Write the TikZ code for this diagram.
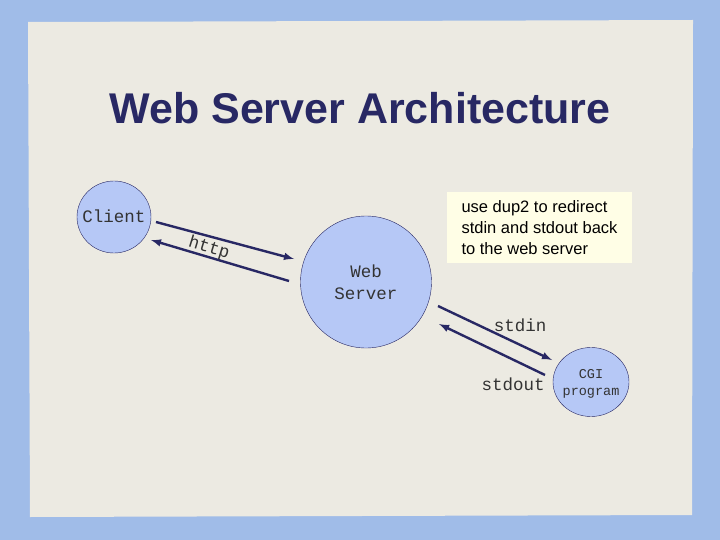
\documentclass[tikz,border=0pt]{standalone}
\usepackage{fontspec}
\setmainfont{Liberation Sans}
\setmonofont{Liberation Mono}
\usetikzlibrary{shapes.geometric}
\definecolor{bubfill}{RGB}{182,200,246}
\definecolor{navy}{RGB}{40,40,100}
\definecolor{paper}{RGB}{236,234,226}
\definecolor{frame}{RGB}{160,188,232}
\begin{document}
\begin{tikzpicture}[x=1pt,y=-1pt,
  bub/.style={ellipse,draw=navy,fill=bubfill,inner sep=0pt},
  arr/.style={draw=navy,line width=2.4pt,-latex},
  lbl/.style={font=\ttfamily\fontsize{17.5}{20}\selectfont,text=black!80}]
\fill[frame] (0,0) rectangle (720,540);
\fill[paper] (28,22) -- (693,20) -- (692,515) -- (30,517) -- cycle;
\useasboundingbox (0,0) rectangle (720,540);
\node (title) at (360,108) {\fontsize{43}{48}\selectfont\bfseries\color{navy}Web Server Architecture};
\node[bub,minimum width=74,minimum height=72] (client) at (114,217) {};
\node[bub,minimum width=131,minimum height=132] (server) at (366,282) {};
\node[bub,minimum width=76,minimum height=69] (cgi) at (591,382) {};
\node[lbl] (clientt) at (114,216) {Client};
\node[lbl,align=center,font=\ttfamily\fontsize{17.5}{22}\selectfont] (servert) at (366,282) {Web\\Server};
\node[lbl,align=center,font=\ttfamily\fontsize{13.5}{17}\selectfont] (cgit) at (591,384) {CGI\\program};
\node[fill=white!90!yellow,minimum width=185,minimum height=71,align=left,font=\fontsize{16.5}{21}\selectfont,inner sep=1pt] (box) at (539.5,227.5) {use dup2 to redirect\\stdin and stdout back\\to the web server};
\coordinate (a1) at (156,222); \coordinate (a2) at (294,259);
\coordinate (b1) at (289,281); \coordinate (b2) at (151,240);
\coordinate (c1) at (438,306); \coordinate (c2) at (552,360);
\coordinate (d1) at (545,375); \coordinate (d2) at (439,324);
\draw[arr] (a1) -- (a2);
\draw[arr] (b1) -- (b2);
\draw[arr] (c1) -- (c2);
\draw[arr] (d1) -- (d2);
\node[lbl,rotate=-17] (http) at (209,248) {http};
\node[lbl] (stdin) at (520,325) {stdin};
\node[lbl] (stdout) at (513,384) {stdout};
\end{tikzpicture}
\end{document}
